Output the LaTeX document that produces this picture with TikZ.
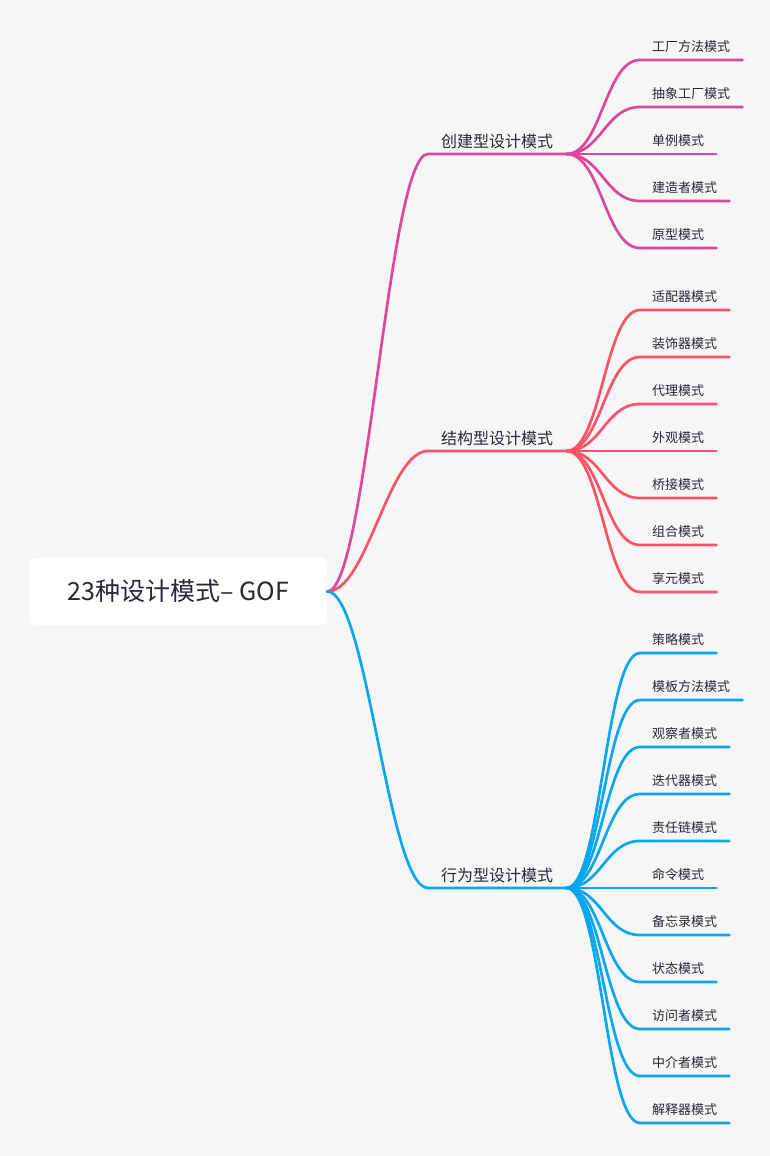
\documentclass[tikz,border=0pt]{standalone}
\usepackage{fontspec}
\newfontfamily\cjk{Noto Sans CJK SC}
\usepackage{xcolor}
\usepackage{tikz}
\usetikzlibrary{positioning}

\definecolor{bgcol}{RGB}{246,246,246}
\definecolor{txtcol}{RGB}{40,40,52}
\definecolor{crecol}{RGB}{222,72,156}
\definecolor{strcol}{RGB}{250,84,104}
\definecolor{behcol}{RGB}{10,166,238}

\begin{document}
\begin{tikzpicture}[
        x=1pt, y=-1pt,
        rootbox/.style={fill=white, rounded corners=5pt, minimum width=297pt, minimum height=67pt, inner sep=0pt, text=txtcol, font=\cjk\fontsize{25}{29}\selectfont},
        category/.style={anchor=south west, inner xsep=13pt, inner ysep=0pt, minimum height=25pt, text=txtcol, font=\cjk\fontsize{16}{19}\selectfont},
        leafnode/.style={anchor=south west, inner xsep=12pt, inner ysep=0pt, minimum height=27pt, text=txtcol, font=\cjk\fontsize{13}{16}\selectfont},
        branch/.style={line width=2.7pt, line cap=round},
    ]
        \fill[bgcol] (0,0) rectangle (770,1156);

        \node[rootbox] (root) at (178.5,591.5) {23种设计模式– GOF};

        \node[category] (cre) at (428,154) {创建型设计模式};
        \node[category] (str) at (428,451) {结构型设计模式};
        \node[category] (beh) at (428,888) {行为型设计模式};

        % creational
        \node[leafnode] (c1) at (640,60) {工厂方法模式};
        \node[leafnode] (c2) at (640,107) {抽象工厂模式};
        \node[leafnode] (c3) at (640,154) {单例模式};
        \node[leafnode] (c4) at (640,201) {建造者模式};
        \node[leafnode] (c5) at (640,248) {原型模式};

        % structural
        \node[leafnode] (s1) at (640,310) {适配器模式};
        \node[leafnode] (s2) at (640,357) {装饰器模式};
        \node[leafnode] (s3) at (640,404) {代理模式};
        \node[leafnode] (s4) at (640,451) {外观模式};
        \node[leafnode] (s5) at (640,498) {桥接模式};
        \node[leafnode] (s6) at (640,545) {组合模式};
        \node[leafnode] (s7) at (640,592) {享元模式};

        % behavioral
        \node[leafnode] (b1) at (640,653) {策略模式};
        \node[leafnode] (b2) at (640,700) {模板方法模式};
        \node[leafnode] (b3) at (640,747) {观察者模式};
        \node[leafnode] (b4) at (640,794) {迭代器模式};
        \node[leafnode] (b5) at (640,841) {责任链模式};
        \node[leafnode] (b6) at (640,888) {命令模式};
        \node[leafnode] (b7) at (640,935) {备忘录模式};
        \node[leafnode] (b8) at (640,982) {状态模式};
        \node[leafnode] (b9) at (640,1029) {访问者模式};
        \node[leafnode] (b10) at (640,1076) {中介者模式};
        \node[leafnode] (b11) at (640,1123) {解释器模式};

        \draw[branch, crecol] (root.east) .. controls +(40,0) and +(-40,0) .. (cre.south west) -- (cre.south east);
        \draw[branch, strcol] (root.east) .. controls +(40,0) and +(-40,0) .. (str.south west) -- (str.south east);
        \draw[branch, behcol] (root.east) .. controls +(40,0) and +(-40,0) .. (beh.south west) -- (beh.south east);

        \draw[branch, crecol] (cre.south east) .. controls +(35,0) and +(-35,0) .. (c1.south west) -- (c1.south east);
        \draw[branch, crecol] (cre.south east) .. controls +(35,0) and +(-35,0) .. (c2.south west) -- (c2.south east);
        \draw[branch, crecol] (cre.south east) .. controls +(35,0) and +(-35,0) .. (c3.south west) -- (c3.south east);
        \draw[branch, crecol] (cre.south east) .. controls +(35,0) and +(-35,0) .. (c4.south west) -- (c4.south east);
        \draw[branch, crecol] (cre.south east) .. controls +(35,0) and +(-35,0) .. (c5.south west) -- (c5.south east);

        \draw[branch, strcol] (str.south east) .. controls +(35,0) and +(-35,0) .. (s1.south west) -- (s1.south east);
        \draw[branch, strcol] (str.south east) .. controls +(35,0) and +(-35,0) .. (s2.south west) -- (s2.south east);
        \draw[branch, strcol] (str.south east) .. controls +(35,0) and +(-35,0) .. (s3.south west) -- (s3.south east);
        \draw[branch, strcol] (str.south east) .. controls +(35,0) and +(-35,0) .. (s4.south west) -- (s4.south east);
        \draw[branch, strcol] (str.south east) .. controls +(35,0) and +(-35,0) .. (s5.south west) -- (s5.south east);
        \draw[branch, strcol] (str.south east) .. controls +(35,0) and +(-35,0) .. (s6.south west) -- (s6.south east);
        \draw[branch, strcol] (str.south east) .. controls +(35,0) and +(-35,0) .. (s7.south west) -- (s7.south east);

        \draw[branch, behcol] (beh.south east) .. controls +(35,0) and +(-35,0) .. (b1.south west) -- (b1.south east);
        \draw[branch, behcol] (beh.south east) .. controls +(35,0) and +(-35,0) .. (b2.south west) -- (b2.south east);
        \draw[branch, behcol] (beh.south east) .. controls +(35,0) and +(-35,0) .. (b3.south west) -- (b3.south east);
        \draw[branch, behcol] (beh.south east) .. controls +(35,0) and +(-35,0) .. (b4.south west) -- (b4.south east);
        \draw[branch, behcol] (beh.south east) .. controls +(35,0) and +(-35,0) .. (b5.south west) -- (b5.south east);
        \draw[branch, behcol] (beh.south east) .. controls +(35,0) and +(-35,0) .. (b6.south west) -- (b6.south east);
        \draw[branch, behcol] (beh.south east) .. controls +(35,0) and +(-35,0) .. (b7.south west) -- (b7.south east);
        \draw[branch, behcol] (beh.south east) .. controls +(35,0) and +(-35,0) .. (b8.south west) -- (b8.south east);
        \draw[branch, behcol] (beh.south east) .. controls +(35,0) and +(-35,0) .. (b9.south west) -- (b9.south east);
        \draw[branch, behcol] (beh.south east) .. controls +(35,0) and +(-35,0) .. (b10.south west) -- (b10.south east);
        \draw[branch, behcol] (beh.south east) .. controls +(35,0) and +(-35,0) .. (b11.south west) -- (b11.south east);
    \end{tikzpicture}
\end{document}
